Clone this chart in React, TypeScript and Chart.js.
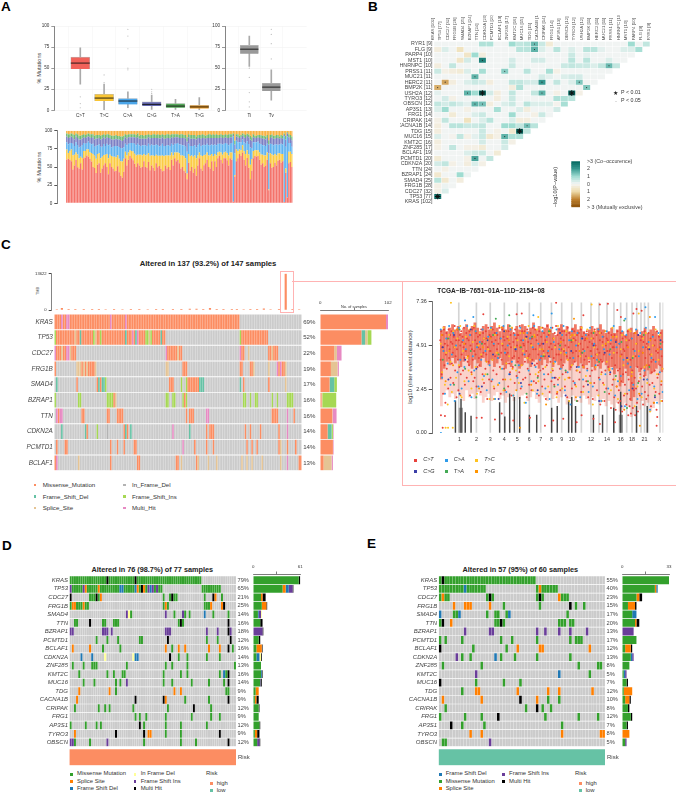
import React, { useEffect, useRef } from 'react';
import { Chart, registerables } from 'chart.js';
Chart.register(...registerables);
const FF = '"Liberation Sans"';
Chart.defaults.font.family = FF;

// ---------- Panel A ----------
const tiTvClasses = ['C>T', 'T>C', 'C>A', 'C>G', 'T>A', 'T>G'];
const classColors = ['#F1625A', '#F9C534', '#4BA6EA', '#6468B0', '#55A95A', '#F09A1E'];
const boxLo = [31, 0, 3, 1, 1, 0];
const boxQ1 = [49, 11, 7, 5, 3, 2];
const boxMed = [56, 14.5, 11, 7, 5, 4];
const boxQ3 = [63, 19, 14, 10, 8, 6];
const boxHi = [74, 31, 22, 18, 13, 15];
const boxOutX = [1, 1, 1, 2, 2, 3, 3, 3, 3, 3, 4, 4, 4];
const boxOutY = [16, 8, 3, 33, 42, 96, 88, 73, 50, 48, 25, 22, 20];
const tiTvNames = ['Ti', 'Tv'];
const tLo = [52, 12], tQ1 = [67, 23], tMed = [72.5, 27.5], tQ3 = [77, 32], tHi = [88, 48];
const tOutX = [1, 1, 1, 1, 1, 2, 2, 2, 2];
const tOutY = [50, 39, 21, 10, 4, 61, 79, 90, 96];
const stackColors = ['#F4736B', '#FBCB43', '#5FB3F0', '#7B7FC4', '#6FBB72', '#F9B13F'];
const pctCT = [60,62,60,58,47,52,60,50,48,55, 47,62,63,66,64,62,58,50,48,42,53, 55,42,48,52,55,50,40,55,50,48,44,45,50,42,38, 35,44,62,52,60,65,62,60,55,50,55,52,49,50,58, 50,49,57,46,52,49,45,55,50,52,48,44,45,52,48, 50,46,60,52,62,58,60,55,48,50,45,42,33, 56,45,50,42,48,38,52,62,48,45,52,55,60,50,48,58,45, 58,50,62,65,60,55,62,62,60,52,62,60, 2,37, 58,62,68,65,70,60,52,60,48,33,45, 62,65,64,65,60,52,55,50,52,60, 18, 55,48,50,56,52,58,60,56,58, 2,42,8,55,57,50];
const pctTC = [14,8,12,16,20,15,10,18,14,9, 16,10,9,8,10,9,12,18,17,20,15, 14,20,16,14,12,18,22,12,15,16,20,18,15,18,20, 22,18,9,14,10,8,10,12,14,16,12,15,18,16,10, 16,18,12,20,14,17,20,12,16,14,18,22,20,14,18, 16,20,10,14,8,12,10,14,18,16,20,20,8, 12,20,16,22,18,24,14,8,18,20,14,12,10,16,18,10,20, 10,16,8,6,10,12,8,9,10,14,8,10, 0,2, 16,10,6,8,10,12,16,10,18,20,16, 10,8,9,8,10,14,12,16,14,10, 1, 14,18,16,12,14,10,9,12,10, 0,6,0,16,14,18];
const pctCA = [10,12,11,9,16,12,14,13,15,14, 18,11,10,9,11,13,12,14,12,18,12, 12,16,14,15,12,14,18,14,12,14,15,16,12,16,18, 18,16,11,14,12,10,11,12,14,14,15,13,12,14,12, 14,12,13,14,15,14,15,14,15,13,14,16,14,13,14, 14,13,12,14,12,12,13,12,15,14,15,16,30, 14,14,13,15,14,15,14,12,13,15,14,13,12,14,14,13,15, 13,14,12,11,12,14,12,12,13,14,12,13, 90,30, 12,12,10,11,8,12,14,12,14,24,15, 12,11,11,12,12,14,13,14,13,12, 50, 13,14,14,13,15,12,12,14,13, 92,30,84,12,12,10];
const pctCG = [8,9,8,9,8,9,8,10,11,10, 9,8,8,8,7,8,9,9,10,10,9, 9,10,11,9,10,9,10,9,11,10,9,10,9,10,11, 10,11,9,9,9,8,8,8,9,10,9,9,10,9,9, 9,10,9,10,9,10,10,9,10,11,10,9,10,10,10, 10,10,9,10,9,9,8,9,9,10,10,11,14, 9,10,10,10,9,11,10,8,10,10,9,9,8,10,10,9,10, 9,10,8,8,9,9,8,8,8,10,9,8, 2,12, 6,7,6,7,5,7,8,7,9,11,10, 7,6,6,6,8,8,9,9,9,8, 12, 8,9,9,8,9,9,8,8,8, 2,10,4,8,7,9];
const pctTA = [4,5,4,4,5,6,4,5,5,5, 5,4,4,4,4,4,5,4,5,5,5, 4,5,5,4,5,4,5,4,5,5,5,5,5,5,5, 6,5,4,5,4,4,4,4,4,4,5,4,5,5,4, 5,5,4,5,4,5,5,4,5,5,5,4,5,5,5, 5,5,4,5,4,4,4,4,5,5,4,5,6, 4,5,5,5,5,4,4,4,5,5,4,4,4,5,5,4,5, 4,5,4,4,4,4,4,4,4,5,4,4, 2,5, 3,4,3,3,3,4,4,3,4,5,5, 4,3,3,3,4,4,4,4,4,4, 6, 4,4,4,4,4,4,3,4,4, 2,5,2,4,4,5];
const pctTG = [4,5,5,4,5,6,4,5,7,7, 6,5,6,5,4,5,5,5,7,6,6, 6,7,6,5,6,5,5,6,7,7,7,6,7,7,8, 8,7,5,6,5,5,5,5,5,6,4,7,6,6,7, 6,6,5,6,6,5,5,6,5,6,6,5,6,6,5, 5,6,5,5,5,5,5,6,5,5,6,6,9, 5,6,6,6,6,8,6,6,6,5,6,7,6,5,5,6,5, 6,5,6,6,5,6,6,5,6,5,5,5, 4,14, 5,5,7,6,4,5,6,4,5,7,9, 5,7,7,6,6,6,7,7,8,6, 13, 6,5,7,7,6,6,8,6,7, 4,7,2,5,6,8];
const pctSeries = [pctCT, pctTC, pctCA, pctCG, pctTA, pctTG];

// ---------- Panel B ----------
const rowGenes = ['RYR1','FLG','PARP4','MST1','HNRNPC','PRSS1','MUC21','HERC2','BMP2K','USH2A','TYRO3','OBSCN','AP3S1','FRG1','CRIPAK','CACNA1B','TDG','MUC16','KMT2C','ZNF285','BCLAF1','PCMTD1','CDKN2A','TTN','BZRAP1','SMAD4','FRG1B','CDC27','TP53','KRAS'];
const rowCounts = [9,9,10,10,10,11,11,11,11,12,12,12,13,14,14,14,15,15,16,17,19,20,20,24,24,25,28,32,77,102];
const heatCells: [number, number][][] = [
  [[6,.8],[7,.8],[10,1],[11,.6],[12,.7],[13,1.5],[14,.5],[15,-.4],[26,1],[28,.6]],
  [[0,-.3],[1,.3],[3,-.7],[11,.7],[12,.7],[13,1.6],[14,.3],[16,.7],[18,.3],[20,.7],[21,.7],[22,.2],[25,.3],[26,.3],[27,.9]],
  [[4,-.6],[5,1],[6,-.3],[18,.5],[20,.2]],
  [[3,-.6],[4,.4],[6,2.4],[10,.4],[13,.4],[14,.4],[18,.7],[20,.7],[23,.3]],
  [[0,-.3],[2,.6],[10,.5],[17,.5],[18,.6],[19,.5],[20,.5],[21,.3],[22,.6],[23,1.5],[24,.6]],
  [[0,.5],[1,-.2],[2,-.3],[3,-.4],[4,.3],[6,.9],[9,1.2],[12,.7],[15,.9],[16,-.2]],
  [[5,1.6],[14,.4],[15,.2],[17,.3],[18,.4],[19,.4]],
  [[1,-1.6],[2,-.3],[4,.3],[5,.5],[6,.4],[7,-.3],[10,.6],[11,.6],[12,.4],[13,.4],[14,2],[16,.6],[18,.3],[19,1.3]],
  [[0,-1.5],[10,-.3],[11,.8],[20,1.3]],
  [[0,.2],[4,1.6],[5,1],[6,3],[7,.4],[8,-.3],[10,.6],[13,.6],[14,1.6],[16,-.2],[18,3],[19,-.2]],
  [[1,.4],[2,-.2],[8,-.3],[10,.5],[16,.8],[17,.8],[18,.7]],
  [[0,.6],[1,.4],[2,.6],[3,.4],[4,.2],[5,1.6],[6,1.4],[7,-.3],[9,.3],[10,.5],[12,.7],[13,.3],[14,.3],[15,.3],[16,-.1],[17,.9]],
  [[0,.3],[1,1],[4,-.2],[8,.9],[11,.3],[12,-.3],[16,.4]],
  [[2,-.4],[5,.3],[6,.5],[10,1],[13,-.2],[14,.5]],
  [[0,-.2],[1,.6],[4,-.7],[6,.3],[7,.7],[10,.3],[11,-.3],[12,-.3]],
  [[0,-.3],[2,.7],[3,.7],[4,.5],[5,.5],[6,.6],[9,1],[10,1],[11,.6],[12,1.4],[13,.7]],
  [[0,-.3],[6,.5],[8,-.2],[10,-.5],[11,3],[12,.6]],
  [[0,.3],[2,-.1],[3,.6],[4,-.2],[5,.2],[6,.5],[7,-.5],[8,-.2],[9,1.6],[10,.8],[11,.8]],
  [[0,-.3],[6,.4],[9,.5],[10,-.2]],
  [[0,-.2],[2,.6],[4,-.2],[5,-.2],[6,-.4],[9,.4]],
  [[4,.3],[5,.5],[6,.5],[8,-.4]],
  [[0,-.4],[4,-.2],[5,1.8],[7,.6]],
  [[0,.4],[1,.6],[2,-.2],[4,-.3],[5,.3],[6,-.2]],
  [[1,-.2]],
  [[0,-.5],[3,1],[4,.1]],
  [[0,.7],[1,-.5],[3,-.3]],
  [[0,-.2],[1,.1]],
  [[0,-.2],[1,.3]],
  [[0,2.6]],
];
const heatDefault = 0.05;
const starCells = [[9,6],[9,18],[16,11],[28,0]];
const dotCells = [[0,13],[1,13],[3,6],[4,23],[5,9],[6,5],[7,1],[7,14],[7,19],[8,0],[8,20],[9,4],[9,14],[11,5],[11,6],[15,12],[17,9],[21,5]];
const barLevels = [-3,-2.75,-2.5,-2.25,-2,-1.75,-1.5,-1.25,-1,-.75,-.5,-.25,0,.25,.5,.75,1,1.25,1.5,1.75,2,2.25,2.5,2.75];
const heatStops: [number, number[]][] = [[-3,[140,81,10]],[-2,[191,129,45]],[-1,[238,219,168]],[0,[245,245,245]],[1,[159,220,209]],[2,[53,151,143]],[3,[1,102,94]]];
function heatColor(v: number) {
  const c = Math.max(-3, Math.min(3, v));
  for (let i = 0; i < heatStops.length - 1; i++) {
    const [a, ca] = heatStops[i], [b, cb] = heatStops[i + 1];
    if (c <= b) { const t = (c - a) / (b - a); return `rgb(${ca.map((x, k) => Math.round(x + (cb[k] - x) * t)).join(',')})`; }
  }
  return 'rgb(1,102,94)';
}

// ---------- Panel C ----------
const genesC = ['KRAS','TP53','CDC27','FRG1B','SMAD4','BZRAP1','TTN','CDKN2A','PCMTD1','BCLAF1'];
const pctC = ['69%','52%','22%','19%','17%','16%','16%','14%','14%','13%'];
const altersC = [
  'M0-109 H4 H7-8 H33 H42',
  'I0 M1-11 S12 M13-14 D15 M16-22 I23 S24 M25-26 I27 M28-41 D42 M43-45 H46 M47 D48 H49 M50-53 I54-55 S56 I57 M58-62 D63 M64-65 I110 M111-126',
  'H0 M1-3 S4 M5-6 H7-8 S9 M10-12 H66 M67-72 S73 M74-75 H110 M111-112 S115 M127-128 S129 M130-132',
  'M0 S13-15 M16 S17 M18 S19 M20-23 S24 S66-67 M76-78 M110-111 M116-117 S118 S127 H132 M133 H134 M135-136 S137',
  'D1 M13 M25 D26 M27 D28-29 I30 M68-70 I75 I78 M79-85 D86-88 D110 M112 M127 S137',
  'I0 I14-15 I31-34 M35 S36 I66-67 I70-71 I76 M77 I78 I112-113 I116 I119-120 I129 I132 I138-141',
  'H1 M2 H3-4 M16-17 M31-32 M37-40 M78 M80-82 H90-91 M129-132 H138 M142',
  'D4 D18 M19 I25 F31 M41 D42 M43 D45 H70 D80 M90 M92-94 M113 M116 M122 M133 H138',
  'M1 M6-7 M33 M37 M41 M47-48 H76 M83 M90 M94 M114 M117 M120 M133 S134 M138 M143',
  'M0 H1 S14 M33 M49-50 M72-73 S75 M84 S85 S91 S96 S111 S114 S117 S123 S134 H138 M145-146',
];
const tmbCols = [1,4,8,12,17,22,26,30,35,40,45,50,55,60,64,70,75,80,84,88,92,96,100,105,108,112,116,120,124,128,133,137,141,145];
const tmbVals = [180,650,150,220,130,170,240,200,150,180,210,160,190,240,170,150,220,380,300,160,620,210,230,170,140,190,210,160,420,180,270,13622,260,180];
const sideKeysC = ['M','D','S','I','H'];
const sideM = [99,62,21,16,14,2,18,11,19,5];
const sideD = [0,5.5,0,0,7,0,0,6,0,0];
const sideS = [0,3.5,4,10,0,1,.5,0,0,12];
const sideI = [0,6,0,0,4,21,0,2,0,0];
const sideH = [3,0,7,2,0,0,6,1,1,2];
const colorsC: Record<string, string> = { M: '#FC8D62', D: '#66C2A5', I: '#A6D854', S: '#E5C494', H: '#E78AC3', F: '#B3B3B3' };
const legendC: [string, string, number, number][] = [['Missense_Mutation','M',35,485],['Frame_Shift_Del','D',35,496.5],['Splice_Site','S',35,508],['In_Frame_Del','F',124.3,485],['Frame_Shift_Ins','I',124.3,496.5],['Multi_Hit','H',124.3,508]];

// Rainfall: y values in tenths of log10 distance, in genome order
const rainRed = [52,41,57,33,48,55,22,46,58,38,50,17, 44,56,36,53,49,25,58,42,47,55,31,51, 57,39,50,45,28,54,48,60,35,43,52,20, 47,58,41,24,52,37,55,49,33,57,44,51, 54,35,48,59,42,27,50,46,56,31,53,40, 43,52,38,57,21,49,55,34,47,58,41,29, 59,46,31,52,44,56,26,50,37,54,48,42, 38,55,47,23,58,43,51,33,56,45,28,53, 50,36,57,44,53,19,48,59,40,30,55,46, 46,54,29,51,41,58,35,49,25,56,43,52, 56,33,47,55,27,50,42,59,37,53,22,45, 41,58,49,30,54,36,52,24,47,57,44,39, 53,45,26,57,39,50,34,55,48,21,59,42, 37,51,56,43,28,58,46,53,32,49,55,40, 55,42,34,60,48,25,52,38,57,44,30,50, 49,57,40,31,54,46,20,58,36,51,43,27, 44,33,56,50,24,53,41,59,47,29,55,38, 58,47,28,52,39,55,32,44,21,57,49,35, 42,54,50,26,59,36,46,56,30,43,52,19, 51,38,60,45,33,55,48,23,57,40,50,29, 47,59,35,53,42,27,56,49,31,60,44,22, 55,30,50,44,58,36,24,53,41,47,57,33, 38,52,46,57,26,49,34,55,43,20,59,41, 48,56,31,42,54,37,51,25,58,45,29,53, 57,40,27,52,46,35,55,18,49,43,56,30, 34,50,58,23,45,54,38,47,26,56,41,52, 53,43,29,57,36,48,20,55,40,51,32,46, 46,56,35,50,19,53,42,28,58,37,49,44, 55,24,47,38,57,31,45,52,16,41,56,34, 40,51,28,54,44,18,57,35,49,25,53,46, 52,37,56,22,46,33,50,14,55,42,27,48, 30,48,20,55,38,13,52,26,45,57,35,17, 24,50,36,18,56,29,44,12,53,33,47,21, 46,27,54,34,16,49,22,57,39,30,52,15, 19,41,11,53,28,35,14,47,24,56,31,10, 43,25,50,17,37,12,55,29,46,21,33,52, 36,54,26,45,16,51,32,57,23,42,48,19, 50,30,47,21,56,38,27,44,53,15,40,34, 28,55,41,17,49,35,52,23,46,13,57,31, 45,33,54,22,48,38,56,27,43,18,51,36];
const rainBlue = [58,31,46,22,53,39,60,27, 44,56,18,49,34,59,41,25, 52,37,47,60,29,55,20,43, 35,57,48,26,51,41,58,32, 46,24,54,38,59,30,50,19, 56,42,28,53,36,60,45,23, 49,33,58,40,21,55,47,31, 38,59,26,52,44,17,56,35, 53,29,48,60,37,22,50,41, 43,57,33,25,54,46,19,59, 31,51,40,58,27,47,36,55, 60,24,45,34,52,16,57,42, 28,49,56,37,20,53,30,46, 55,35,23,59,43,26,50,38, 41,58,30,18,54,47,33,57, 25,44,52,36,60,21,48,29, 50,32,57,41,15,55,39,24, 37,53,27,46,58,19,43,56, 22,48,35,59,30,51,13,42, 54,26,40,17,56,34,47,23];
const rainYellow = [50,34,59,27,45,16,55,40, 23,57,48,31,53,38,60,20, 46,29,54,42,35,58,25,51, 60,37,22,49,56,44,30,53, 33,52,47,19,58,41,26,55, 45,27,60,36,50,24,57,39, 54,43,30,59,21,48,35,52, 28,56,38,46,17,53,42,60, 41,49,24,55,33,58,29,47, 59,22,44,37,51,26,56,34, 36,53,48,20,60,31,45,25, 47,30,57,41,18,54,38,52, 55,26,35,50,43,59,23,46, 32,58,42,28,53,16,48,37, 44,21,56,33,49,27,57,40, 51,36,24,59,45,30,54,19, 29,47,55,38,22,52,41,58, 57,34,43,15,50,26,46,31, 20,53,37,56,28,48,12,44, 49,25,58,33,41,55,18,36];
const rainPurple = [48,30,55,22,41,58,36,26,52,44,19,57,33,47,28,54,39,24,50,43,31,56,21,46,37,53,27,49,18,45,34,51,15,42,25,55,30,47,20,52];
const rainGreen = [41,53,27,58,36,46,20,50,33,55,44,25,60,38,48,22,54,31,43,57,26,49,35,52,18,45,29,56,40,23,47,32,51,14,42,28,55,37,21,50];
const rainOrange = [55,29,46,38,58,21,50,43,33,57,25,48,40,53,19,45,59,30,52,36, 24,49,56,42,27,54,34,47,16,58,39,23,51,44,31,55,20,46,37,53, 28,57,41,18,50,35,54,26,43,13,48,32,56,22,45,38,52,17,47,29];
const cloudHi = [58,60,57,59,61,58,60,56,59,61,58,60,62,59,57,60,61,58,60,62, 59,57,60,58,61,59,56,60,58,61, 60,57,59,62,58,60,57,59,61,58, 56,55,59,61,58,60,57,59,61,58, 60,57,56,58,60,57,59,61,58,56, 57,59,56,58,60,57,55,58,59,56, 58,55,57,59,56,58,60,57,55,58];
const cloudLo = [30,36,40,38,42,39,41,37,40,43,38,36,41,39,37,42,40,38,41,37, 39,42,38,36,40,37,41,39,36,38, 42,39,37,40,41,36,38,41,39,42, 37,40,38,36,39,41,35,38,40,37, 39,36,38,41,37,35,39,36,40,38, 35,37,33,36,26,28,36,32,18,20, 37,34,36,32,35,33,34,36,38,34];
const sparseLo = [15,22,24,20,22,19,23,21,18,24,20,22,19,23,21,17,20,22,18,21, 23,19,21,17,20,22,18,24,19,21, 22,18,20,23,19,17,21,20,18,22, 19,21,17,20,22,16,19,21,18,20, 17,21,19,16,20,18,21,17,19,15, 18,16,14,17,12,13,17,15,9,10, 16,13,18,15,17,12,14,18,16,19];
const extraRed = [[52,7.3],[71.6,7.2],[75.2,7.25],[79.4,6.9],[90.3,6.85],[88,6.95],[19.4,6.65],[34.3,6.65],[36.6,6.7],[64.2,6.6],[81,6.5],[86.6,6.7],[.4,1],[2.2,.95],[1.2,.3],[16.4,.85],[18.7,.85],[24.6,.75],[27.6,1.1],[32.8,.7],[40.3,.85],[47,.4],[50.7,.7],[55.2,.8],[61.2,.6],[63.4,1],[68.7,.8],[71.6,.5],[78.4,.6],[84.3,1],[97,.4],[97.3,.9]];
const extraBlue = [[.4,0],[41.8,6.6],[50,6.7],[92,7.05],[96.3,6.5],[14.9,6.5],[11.2,6.3],[83,6.4]];
const extraYellow = [[4.9,7.3],[67.9,7.2],[89,6.7],[2.5,.3],[5.7,.3],[44,6.5],[3.6,.3]];
const extraGreen = [[31,6.6],[82.5,6.3],[25,6.4]];
const extraOrange = [[35.8,.3],[89.5,.4],[60,6.4],[94,6.5]];
const chromBounds = [8.4,16.3,22.5,28.8,34.6,40,45.1,49.9,54.5,59,63.3,67.6,71.2,74.8,77.9,80.9,83.6,86,88.1,90,91.6,93.3,98.5,100];
const chromNames = ['1','2','3','4','5','6','7','8','9','10','12','14','16','18','21','X'];
const chromTicks = [8.7,16.3,22.5,28.8,34.6,40,45.1,49.9,54.5,59,67.6,74.8,80.9,86,91.6,98.2];
const kataegisX = [6.9,9.4,11.3,13.9,26.7,29,31.2,33.3,35.7,40,43.3,50,52.5,57.6,59,60.7,68.7,72.8,77.8,80.9,88,92.8];
const kataegisY = [1.8,1.9,1.15,.95,1.7,.9,2.2,2,2,1,1,1.4,1.5,1.8,2,1.5,1,1,1.4,2.3,1.5,1.5];
const rainColors = { red: '#E8413B', blue: '#2E9BEA', yellow: '#FFC21F', purple: '#3B3FA8', green: '#44AA55', orange: '#FF9500' };
const rainLegend: [string, string, number, number][] = [['C>T',rainColors.red,415.7,460.3],['C>A',rainColors.blue,446.3,460.3],['T>C',rainColors.yellow,476.7,460.3],['C>G',rainColors.purple,415.7,471.7],['T>A',rainColors.green,446.3,471.7],['T>G',rainColors.orange,476.7,471.7]];

// ---------- Panels D, E ----------
const genesDE = ['KRAS','TP53','CDC27','FRG1B','SMAD4','TTN','BZRAP1','PCMTD1','BCLAF1','CDKN2A','ZNF285','KMT2C','MUC16','TDG','CACNA1B','CRIPAK','FRG1','AP3S1','TYRO3','OBSCN'];
const pctD = ['79%','65%','21%','25%','14%','16%','18%','12%','16%','14%','13%','16%','14%','9%','9%','12%','9%','12%','9%','12%'];
const pctE = ['55%','40%','23%','15%','17%','20%','13%','17%','12%','13%','8%','5%','7%','12%','10%','8%','12%','7%','8%','5%'];
const altersD = [
  'M0-60 H17 H30',
  'I0 M1-5 I6 S7 M8-12 S13 M14-22 D23-24 M25-29 D30 S31 M32 H33 S34 M35 I36 D37 I38 M39 I40 M41-42 M61-69',
  'H0 M9-11 H12 M13 S14 M43 M46 H47 M48-49 M62 H66 S67 M70',
  'M0 S1-2 M3-5 S6 M7-8 M43 S44 M45 M62-64 S65 S70 H71',
  'I26 F27 M28 I44 M48 I52 M53 M55 D62 M66 M73',
  'M2-3 H9 M15-16 M20-22 M50 H51 M52 H73',
  'I0-1 I15-17 I19 I44-46 I63 I68 H73 I74',
  'M12 M17 M22 M32-33 H45 M63 M68 H74',
  'S1 S9 M15 M23 S44 M47 S50 S53 S64 S69 H73 M75',
  'D5 D10 F16 F29 D30-31 H46 M50 M54 M63 M69',
  'M1 M6 M10-12 M26 M44 M47 M54 M76',
  'M4 M17 M20 M24-25 M43 M51 M54 M69 D71 M72 H73',
  'M6 M11 M21 M23 I26 M43 M47 M56 M64 M71 H73',
  'S4 S18 M21 S48 S51 M72-73',
  'S3 H30 H43 S44 M53 M64 H73',
  'M2 M13 M16 M18 M29 M45 H57 M65',
  'M30 M32 M35 M44 M56 M65 M69',
  'M0 M7 M12 M14 H32 M34 M44 M51 M63',
  'S2 H21 H34 S36-37 M44 M51 H69',
  'I0-1 M2 M9 I17 M34 M51 M58 H73',
];
const altersE = [
  'M0 H1 M2-34',
  'M0-8 D9 M10-16 M35 S36 M37-42',
  'M0 S1 M2-3 M17 H18 M19 M35 H36 M37 S43 M44-46',
  'S5 S9-11 S18 M23 M36 H47 M49 M52',
  'D0 M5-6 D7 M17 M20-21 M24 D25 M46',
  'M0 H1 S4 M20-21 H22 M23 M43-45 M47-48',
  'I9 I18-19 I35 I38 I43 I47 I53',
  'M0 M2 M8 M22 M26 M35 M47 M49-51',
  'H0 M12 M24 S28 S36-37 S54',
  'I6 M8 M11 D20 M22 M27 M35 M47',
  'M1 M15 M50 M57-58',
  'I13 D43 M54',
  'H0 M13 M23 M29',
  'M8 S13-14 S28 S39 S43 S55',
  'S1 S15 H29 S35 M39 M43',
  'M2 M31 H35 M37 M40',
  'M0 M9 M15 H21 M38 M50 M57',
  'H4 M8 M16 M44',
  'S11 S15 S44 S58-59',
  'M1-2 I18',
];
const colorsDE: Record<string, string> = { M: '#33A02C', S: '#FF7F00', D: '#1F78B4', I: '#6A3D9A', F: '#FFFF99', H: '#000000' };
const legendD: [string, string, number, number][] = [['Missense Mutation','M',71.3,774.3],['Splice Site','S',71.3,781.7],['Frame Shift Del','D',71.3,788.7],['In Frame Del','F',135,774.3],['Frame Shift Ins','I',135,781.7],['Multi Hit','H',135,788.7]];
const legendE: [string, string, number, number][] = [['Frame Shift Del','D',440.3,774.3],['Missense Mutation','M',440.3,781.7],['Splice Site','S',440.3,788.7],['Frame Shift Ins','I',503.7,774.3],['Multi Hit','H',503.7,781.7]];
const riskHigh = '#FC8D62', riskLow = '#66C2A5';

// ---------- helpers ----------
function parseAlter(s: string, n: number) {
  const a: string[] = Array(n).fill('');
  for (const m of s.matchAll(/([A-Z])(\d+)(?:-(\d+))?/g)) {
    const from = +m[2], to = m[3] ? +m[3] : from;
    for (let c = from; c <= to && c < n; c++) a[c] = m[1];
  }
  return a;
}
const noPad = (s: any) => { s.paddingTop = 0; s.paddingBottom = 0; s.paddingLeft = 0; s.paddingRight = 0; };
const fixW = (w: number) => (s: any) => { s.width = w; noPad(s); };
const fixH = (h: number) => (s: any) => { s.height = h; noPad(s); };
const setTicks = (vals: number[]) => (s: any) => { s.ticks = vals.map((value) => ({ value })); };

// rect = plot area in page pixels; m = room around it [l,t,r,b]; ax = sides on which an axis fills that room
function Plot({ rect, m, ax = '', build }: any) {
  const ref = useRef<HTMLCanvasElement>(null);
  const left = Math.floor(rect[0] - m[0]), top = Math.floor(rect[1] - m[1]);
  const right = Math.ceil(rect[2] + m[2]), bottom = Math.ceil(rect[3] + m[3]);
  useEffect(() => {
    const cfg = build();
    const has = (c: string) => ax.includes(c);
    cfg.options = {
      responsive: false, animation: false, devicePixelRatio: 1, events: [],
      layout: { autoPadding: false, padding: {
        left: rect[0] - (has('l') ? m[0] : 0) - left,
        top: rect[1] - (has('t') ? m[1] : 0) - top,
        right: right - rect[2] - (has('r') ? m[2] : 0),
        bottom: bottom - rect[3] - (has('b') ? m[3] : 0),
      } },
      plugins: { legend: { display: false }, tooltip: { enabled: false } },
      ...cfg.options,
    };
    const c = new Chart(ref.current as HTMLCanvasElement, cfg);
    return () => c.destroy();
  }, []);
  return <canvas ref={ref} width={right - left} height={bottom - top} style={{ position: 'absolute', left, top, width: right - left, height: bottom - top }} />;
}

function T({ x, y, s, children, b, i, c = '#333', a = 'l', r }: any) {
  const tx = a === 'l' ? '0' : a === 'c' ? '-50%' : '-100%';
  return <div style={{ position: 'absolute', left: x, top: y, fontFamily: FF, fontSize: s, fontWeight: b ? 700 : 400, fontStyle: i ? 'italic' : 'normal', color: c, lineHeight: 1, whiteSpace: 'nowrap', transform: r ? 'translate(-50%,-50%) rotate(-90deg)' : `translate(${tx},-50%)` }}>{children}</div>;
}
function Dot({ x, y, c }: any) {
  return <div style={{ position: 'absolute', left: x - 1.25, top: y - 1.25, width: 2.5, height: 2.5, background: c }} />;
}

function yAxisLinear(min: number, max: number, vals: number[], w: number, fs = 4.6) {
  return {
    type: 'linear', min, max, afterFit: fixW(w), afterBuildTicks: setTicks(vals),
    grid: { color: '#f1f1f1', tickColor: '#555', tickLength: 3, lineWidth: .6 },
    border: { display: true, color: '#666', width: .8 },
    ticks: { font: { size: fs }, color: '#333', padding: 2, autoSkip: false, callback: (v: number) => String(v) },
  };
}

function boxConfig(names: string[], lo: number[], q1: number[], med: number[], q3: number[], hi: number[], outX: number[], outY: number[], colors: string[], xmin: number, xmax: number, thick: number) {
  const xs = names.map((_, i) => i + 1);
  return {
    type: 'bar',
    data: {
      datasets: [
        { type: 'scatter', data: xs.map((x, i) => ({ x, y: med[i] })), pointStyle: 'line', pointRadius: thick / 2, borderColor: '#111', borderWidth: .9, backgroundColor: '#111' },
        { type: 'scatter', data: outX.map((x, i) => ({ x, y: outY[i] })), pointRadius: .6, borderWidth: 0, backgroundColor: '#bbb' },
        { data: xs.map((x, i) => ({ x, y: [q1[i], q3[i]] })), backgroundColor: colors, borderColor: '#bbb', borderWidth: .6, barThickness: thick, grouped: false },
        { data: xs.map((x, i) => ({ x, y: [lo[i], hi[i]] })), backgroundColor: '#aaa', barThickness: 1, grouped: false },
      ],
    },
    options: {
      scales: {
        x: { type: 'linear', offset: false, min: xmin, max: xmax, afterFit: fixH(10), afterBuildTicks: setTicks(xs), grid: { color: '#f5f5f5', drawTicks: false, lineWidth: .6 }, border: { display: false }, ticks: { font: { size: 4.6 }, color: '#333', padding: 3, maxRotation: 0, autoSkip: false, callback: (v: number) => names[v - 1] } },
        y: yAxisLinear(0, 100, [0, 25, 50, 75, 100], 16),
      },
    },
  };
}

function stackConfig() {
  const totals = pctCT.map((_, i) => pctSeries.reduce((a, s) => a + s[i], 0));
  return {
    type: 'bar',
    data: { datasets: pctSeries.map((s, k) => ({ data: s.map((v, i) => ({ x: i + .5, y: v / totals[i] * 100 })), backgroundColor: stackColors[k], barThickness: 1.35, inflateAmount: 0 })) },
    options: { scales: {
      x: { type: 'linear', offset: false, display: false, stacked: true, min: -5.64, max: 147 },
      y: { ...yAxisLinear(0, 100, [0, 25, 50, 75, 100], 16), stacked: true, grid: { display: true, drawOnChartArea: false, tickColor: '#555', tickLength: 3 } },
    } },
  };
}

function heatConfig() {
  const colLabels = rowGenes.map((g, i) => ({ g, c: rowCounts[i] })).reverse().map((o) => `${o.g} [${o.c}]`);
  const rowLabels = rowGenes.map((g, i) => `${g} [${rowCounts[i]}]`);
  const bars: any[] = [];
  for (let j = 0; j < 29; j++) {
    const vals = rowLabels.map((_, r) => { const f = (heatCells[r] || []).find((e) => e[0] === j); return j < 29 - r ? (f ? f[1] : heatDefault) : null; });
    bars.push({ data: vals.map((v) => (v === null ? null : [j - .47, j + .47])), backgroundColor: vals.map((v) => heatColor(v === null ? 0 : v)), grouped: false, barPercentage: .92, categoryPercentage: 1, inflateAmount: 0, order: 5 });
  }
  return {
    type: 'bar',
    data: { labels: rowLabels, datasets: [
      { type: 'scatter', xAxisID: 'x', yAxisID: 'y', data: starCells.map(([r, c]) => ({ x: c, y: rowLabels[r] })), pointStyle: 'star', pointRadius: 2.8, borderColor: '#111', borderWidth: 1, order: 0 },
      { type: 'scatter', xAxisID: 'x', yAxisID: 'y', data: dotCells.map(([r, c]) => ({ x: c, y: rowLabels[r] })), pointRadius: .55, borderWidth: 0, backgroundColor: '#222', order: 1 },
      ...bars,
    ] },
    options: {
      indexAxis: 'y',
      scales: {
        x: { type: 'linear', position: 'top', offset: false, min: -.5, max: 29.5, afterFit: fixH(26), afterBuildTicks: setTicks(colLabels.map((_, i) => i)), grid: { display: false, drawTicks: false }, border: { display: false }, ticks: { font: { size: 4.3 }, color: '#555', padding: 1, minRotation: 90, maxRotation: 90, autoSkip: false, callback: (v: number) => colLabels[v] } },
        y: { type: 'category', afterFit: fixW(34), grid: { display: false, drawTicks: false }, border: { display: false }, ticks: { font: { size: 5.3 }, color: '#444', padding: 1.5, autoSkip: false } },
      },
    },
  };
}

function colorbarConfig() {
  return {
    type: 'bar',
    data: { labels: ['c'], datasets: barLevels.map((v) => ({ data: [[v, v + .25]], backgroundColor: heatColor(v + .125), grouped: false, barPercentage: 1, categoryPercentage: 1 })) },
    options: { scales: {
      x: { display: false },
      y: { type: 'linear', position: 'right', min: -3, max: 3, afterFit: fixW(70), afterBuildTicks: setTicks([-3, -2, -1, 0, 1, 2, 3]), grid: { display: false, drawTicks: false }, border: { display: false }, ticks: { font: { size: 5.3 }, color: '#444', padding: 7, autoSkip: false, callback: (v: number) => (v === 3 ? '>3 (Co\u2212occurence)' : v === -3 ? '> 3 (Mutually exclusive)' : String(Math.abs(v))) } },
    } },
  };
}

function oncoConfig(genes: string[], pcts: string[], alters: string[], n: number, colors: Record<string, string>, L: number, R: number, fs: number, bp: number, gap: number) {
  const cells = alters.map((s) => parseAlter(s, n));
  const ds = [];
  for (let c = 0; c < n; c++) {
    ds.push({ data: genes.map(() => [c + gap, c + 1 - gap]), backgroundColor: genes.map((_, g) => colors[cells[g][c]] || '#CBCBCB'), grouped: false, barPercentage: bp, categoryPercentage: 1, inflateAmount: 0 });
  }
  return {
    type: 'bar',
    data: { labels: genes, datasets: ds },
    options: {
      indexAxis: 'y',
      scales: {
        x: { type: 'linear', offset: false, display: false, min: 0, max: n },
        y: { type: 'category', afterFit: fixW(L), grid: { display: false, drawTicks: false }, border: { display: false }, ticks: { font: { size: fs, style: 'italic' }, color: '#444', padding: 1.5, autoSkip: false } },
        y1: { type: 'category', labels: pcts, position: 'right', afterFit: fixW(R), grid: { display: false, drawTicks: false }, border: { display: false }, ticks: { font: { size: fs - .3 }, color: '#444', padding: 1.5, autoSkip: false } },
      },
    },
  };
}

function sideConfig(genes: string[], keys: string[], counts: number[][], colors: Record<string, string>, max: number, bp: number) {
  return {
    type: 'bar',
    data: { labels: genes, datasets: keys.map((k, i) => ({ data: counts[i], backgroundColor: colors[k], barPercentage: bp, categoryPercentage: 1, inflateAmount: 0 })) },
    options: { indexAxis: 'y', scales: {
      x: { type: 'linear', offset: false, display: false, min: 0, max, stacked: true },
      y: { type: 'category', display: false, stacked: true },
    } },
  };
}

function countSide(alters: string[], n: number, keys: string[]) {
  return keys.map((k) => alters.map((s) => parseAlter(s, n).filter((x) => x === k).length));
}

function topAxisConfig(max: number, t: number) {
  return {
    type: 'bar',
    data: { datasets: [] },
    options: { scales: {
      x: { type: 'linear', position: 'top', offset: false, min: 0, max, afterFit: fixH(t), afterBuildTicks: setTicks([0, max]), grid: { drawOnChartArea: false, tickLength: 2.5, tickColor: '#444', lineWidth: .7 }, border: { color: '#444', width: .7 }, ticks: { font: { size: 4.4 }, color: '#333', padding: 2.5, maxRotation: 0, autoSkip: false } },
      y: { type: 'linear', display: false },
    } },
  };
}

function riskConfig(n: number, color: string) {
  return {
    type: 'bar',
    data: { labels: ['Risk'], datasets: [{ data: [[0, n]], backgroundColor: color, barPercentage: 1, categoryPercentage: 1, yAxisID: 'y' }] },
    options: { indexAxis: 'y', scales: {
      x: { type: 'linear', offset: false, display: false, min: 0, max: n },
      y: { type: 'category', position: 'right', afterFit: fixW(20), grid: { display: false, drawTicks: false }, border: { display: false }, ticks: { font: { size: 6 }, color: '#444', padding: 2 } },
    } },
  };
}

function tmbConfig() {
  return {
    type: 'bar',
    data: { datasets: [{ data: tmbCols.map((c, i) => ({ x: c + .5, y: tmbVals[i] })), backgroundColor: '#FC8D62', barThickness: 1.5, grouped: false }] },
    options: { scales: {
      x: { type: 'linear', offset: false, display: false, min: -1.55, max: 147 },
      y: { ...yAxisLinear(0, 13622, [0, 13622], 22, 4.2), grid: { display: true, drawOnChartArea: false, tickColor: '#444', tickLength: 3 } },
    } },
  };
}

function rainConfig() {
  const spread = (ys: number[]) => ys.map((y, i) => ({ x: (i + .5) / ys.length * 100, y: y / 10 }));
  const pts = (ys: number[], ex: number[][], color: string) => ({ type: 'scatter', data: [...spread(ys), ...ex.map(([x, y]) => ({ x, y }))], pointRadius: 1, borderWidth: 0, backgroundColor: color });
  const binX = cloudHi.map((_, i) => (i + .5) * 1.25);
  return {
    type: 'bar',
    data: { datasets: [
      pts(rainPurple, [], rainColors.purple),
      pts(rainGreen, extraGreen, rainColors.green),
      pts(rainBlue, extraBlue, rainColors.blue),
      pts(rainYellow, extraYellow, rainColors.yellow),
      pts(rainOrange, extraOrange, rainColors.orange),
      pts(rainRed, extraRed, rainColors.red),
      { data: kataegisX.map((x, i) => ({ x, y: [0, kataegisY[i]] })), backgroundColor: '#444', barThickness: .8, grouped: false },
      { data: [{ x: 9.3, y: [0, 1.4] }, { x: 81, y: [0, 1] }], backgroundColor: '#999', barThickness: 3.5, grouped: false },
      { data: binX.map((x, i) => ({ x, y: [cloudLo[i] / 10, cloudHi[i] / 10] })), backgroundColor: 'rgba(236,88,62,0.8)', barThickness: 2.8, grouped: false, inflateAmount: 0 },
      { data: binX.map((x, i) => ({ x, y: [sparseLo[i] / 10, cloudLo[i] / 10] })), backgroundColor: 'rgba(236,88,62,0.27)', barThickness: 2.8, grouped: false, inflateAmount: 0 },
      { data: chromBounds.map((x) => ({ x, y: [0, 7.3] })), backgroundColor: '#d4d4d4', barThickness: 1, grouped: false },
    ] },
    options: { scales: {
      x: { type: 'linear', offset: false, min: -3.28, max: 100, afterFit: fixH(10), afterBuildTicks: setTicks(chromTicks), grid: { display: false, drawTicks: false }, border: { display: false }, ticks: { font: { size: 5.4 }, color: '#333', padding: 3, maxRotation: 0, autoSkip: false, callback: (_: number, i: number) => chromNames[i] } },
      y: { type: 'linear', min: 0, max: 7.36, afterFit: fixW(22), afterBuildTicks: setTicks([0, 2.45, 4.91, 7.36]), grid: { display: true, drawOnChartArea: false, tickColor: '#555', tickLength: 4 }, border: { color: '#555', width: .8 }, ticks: { font: { size: 5.4 }, color: '#333', padding: 2, autoSkip: false, callback: (v: number) => v.toFixed(2) } },
    } },
  };
}

const Letter = ({ x, y, t }: any) => <T x={x} y={y} s={13.5} b c="#000">{t}</T>;
const RISK = (x: number) => (
  <>
    <T x={x} y={774.3} s={5.9}>Risk</T>
    <Dot x={x + 5.3} y={783.7} c={riskHigh} /><T x={x + 10.7} y={783.7} s={5.9}>high</T>
    <Dot x={x + 5.3} y={790.7} c={riskLow} /><T x={x + 10.7} y={790.7} s={5.9}>low</T>
  </>
);

export default function App() {
  const keysDE = ['M', 'S', 'D', 'I', 'F', 'H'];
  return (
    <div style={{ position: 'absolute', left: 0, top: 0, width: 676, height: 794, background: '#fff', overflow: 'hidden' }}>
      <Letter x={1} y={7} t="A" /><Letter x={368} y={7} t="B" /><Letter x={1} y={245} t="C" /><Letter x={2} y={546} t="D" /><Letter x={367} y={544} t="E" />

      {/* A */}
      <T x={39.5} y={68} s={5.6} r c="#444">% Mutations</T>
      <Plot ax="lb" rect={[54.3, 26, 215, 110.3]} m={[16, 4, 2, 10]} build={() => boxConfig(tiTvClasses, boxLo, boxQ1, boxMed, boxQ3, boxHi, boxOutX, boxOutY, classColors, -.092, 6.66, 19)} />
      <Plot ax="lb" rect={[225, 26, 306.7, 110.3]} m={[16, 4, 2, 10]} build={() => boxConfig(tiTvNames, tLo, tQ1, tMed, tQ3, tHi, tOutX, tOutY, ['#999999', '#999999'], -.105, 3.61, 18.3)} />
      <T x={39.5} y={167} s={5.6} r c="#444">% Mutations</T>
      <Plot ax="l" rect={[57.3, 130.7, 292.7, 203.3]} m={[16, 4, 1, 4]} build={stackConfig} />

      {/* B */}
      <Plot ax="lt" rect={[434, 41.3, 657.4, 204.7]} m={[34, 26, 2, 1]} build={heatConfig} />
      <Plot ax="r" rect={[571.3, 161.3, 580, 207.3]} m={[0, 4, 70, 4]} build={colorbarConfig} />
      <T x={556} y={187} s={5.5} r c="#333">{'\u2212log10(P\u2212value)'}</T>
      <T x={613} y={92.7} s={6} c="#222">{'\u2605'}</T><T x={621} y={92.7} s={5.3}>{'P < 0.01'}</T>
      <T x={615} y={100.7} s={6} c="#222">{'\u00B7'}</T><T x={621} y={100.7} s={5.3}>{'P < 0.05'}</T>

      {/* C */}
      <T x={208} y={263.7} s={7.7} b c="#222" a="c">Altered in 137 (93.2%) of 147 samples</T>
      <T x={39} y={291} s={3.8} r c="#444">TMB</T>
      <Plot ax="l" rect={[51.7, 273.7, 301.7, 310]} m={[22, 4, 0, 3]} build={tmbConfig} />
      <Plot ax="lr" rect={[54.3, 314, 301.7, 470.7]} m={[50, 0, 18, 0]} build={() => oncoConfig(genesC, pctC, altersC, 147, colorsC, 50, 18, 6.4, .94, .02)} />
      <Plot rect={[320.3, 314, 388, 470.7]} m={[0, 0, 1, 0]} build={() => sideConfig(genesC, sideKeysC, [sideM, sideD, sideS, sideI, sideH], colorsC, 102, .94)} />
      <Plot ax="t" rect={[320.3, 310.3, 388, 310.8]} m={[4, 13, 6, 1]} build={() => topAxisConfig(102, 13)} />
      <T x={354} y={307} s={3.9} a="c">No. of samples</T>
      {legendC.map(([t, k, x, y]) => <React.Fragment key={t}><Dot x={x} y={y} c={colorsC[k]} /><T x={x + 7.7} y={y} s={6.1}>{t}</T></React.Fragment>)}

      <div style={{ position: 'absolute', left: 280, top: 271, width: 11.5, height: 40, border: '1px solid #FFB3B3' }} />
      <div style={{ position: 'absolute', left: 292, top: 281, width: 110, height: 1, background: '#FFB3B3' }} />
      <div style={{ position: 'absolute', left: 402, top: 281, width: 272.5, height: 203, border: '1px solid #FFB3B3' }} />

      <T x={491} y={291} s={6.5} b c="#222" a="c">{'TCGA\u2212IB\u22127651\u221201A\u221211D\u22122154\u221208'}</T>
      <T x={410} y={367} s={6.1} r c="#333">log10 (inter event distance)</T>
      <Plot ax="lb" rect={[432.7, 301.7, 663.3, 433]} m={[22, 4, 2, 10]} build={rainConfig} />
      {rainLegend.map(([t, c, x, y]) => <React.Fragment key={t}><Dot x={x} y={y} c={c} /><T x={x + 7.5} y={y} s={5.5} i>{t}</T></React.Fragment>)}

      {/* D */}
      <T x={152.3} y={570} s={7.3} b c="#222" a="c">Altered in 76 (98.7%) of 77 samples</T>
      <Plot ax="lr" rect={[69.5, 576, 236, 746.7]} m={[60, 0, 16, 0]} build={() => oncoConfig(genesDE, pctD, altersD, 77, colorsDE, 60, 16, 6, .92, .03)} />
      <Plot rect={[253.3, 576, 300.3, 746.7]} m={[0, 0, 1, 0]} build={() => sideConfig(genesDE, keysDE, countSide(altersD, 77, keysDE), colorsDE, 61, .92)} />
      <Plot ax="t" rect={[253.3, 574, 300.3, 574.5]} m={[4, 12, 6, 1]} build={() => topAxisConfig(61, 12)} />
      <Plot ax="r" rect={[69.5, 749.3, 236, 765.3]} m={[0, 0, 20, 0]} build={() => riskConfig(77, riskHigh)} />
      {legendD.map(([t, k, x, y]) => <React.Fragment key={t}><Dot x={x} y={y} c={colorsDE[k]} /><T x={x + 5.7} y={y} s={5.9}>{t}</T></React.Fragment>)}
      {RISK(206)}

      {/* E */}
      <T x={520.3} y={570} s={7.3} b c="#222" a="c">Altered in 57 (95%) of 60 samples</T>
      <Plot ax="lr" rect={[438.7, 576, 605, 746.7]} m={[60, 0, 16, 0]} build={() => oncoConfig(genesDE, pctE, altersE, 60, colorsDE, 60, 16, 6, .92, .03)} />
      <Plot rect={[622.3, 576, 669, 746.7]} m={[0, 0, 1, 0]} build={() => sideConfig(genesDE, keysDE, countSide(altersE, 60, keysDE), colorsDE, 33, .92)} />
      <Plot ax="t" rect={[622.3, 574, 669, 574.5]} m={[4, 12, 6, 1]} build={() => topAxisConfig(33, 12)} />
      <Plot ax="r" rect={[438.7, 749.3, 605, 765.3]} m={[0, 0, 20, 0]} build={() => riskConfig(60, riskLow)} />
      {legendE.map(([t, k, x, y]) => <React.Fragment key={t}><Dot x={x} y={y} c={colorsDE[k]} /><T x={x + 5.4} y={y} s={5.9}>{t}</T></React.Fragment>)}
      {RISK(575)}
    </div>
  );
}
